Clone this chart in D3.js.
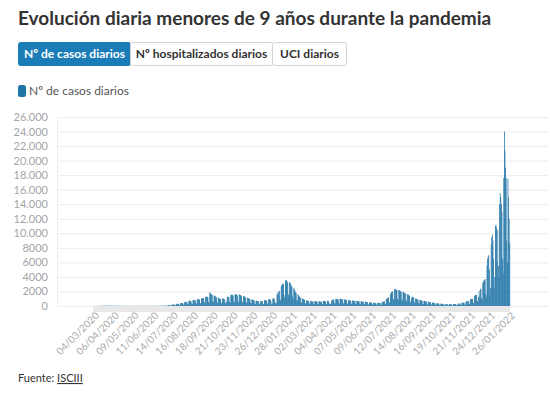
<!DOCTYPE html>
<html>
<head>
<meta charset="utf-8">
<script src="https://cdn.jsdelivr.net/npm/d3@7"></script>
<style>
  body { margin: 0; background: #fff; }
  svg { display: block; font-family: Lato, "Open Sans", sans-serif; }
</style>
</head>
<body>
<div id="chart"></div>
<script>
// Daily cases, age 0-9, from 04/03/2020 (one row per week, Mon..Sun)
const firstDay = "2020-03-04";
const casos = [
  2, 3, 4, 2, 3,
  8, 10, 14, 16, 18, 10, 8,
  25, 30, 32, 35, 30, 18, 14,
  40, 42, 45, 44, 40, 22, 18,
  45, 44, 42, 40, 36, 20, 15,
  38, 36, 34, 30, 22, 16, 12,
  34, 32, 30, 28, 26, 14, 10,
  28, 26, 25, 24, 22, 12, 9,
  24, 22, 21, 20, 15, 10, 8,
  20, 20, 19, 18, 16, 9, 7,
  20, 22, 24, 22, 20, 10, 8,
  24, 26, 25, 24, 22, 12, 9,
  22, 22, 20, 20, 18, 10, 8,
  20, 22, 21, 20, 18, 10, 8,
  22, 24, 25, 24, 20, 12, 9,
  26, 28, 30, 28, 26, 14, 10,
  32, 35, 36, 34, 30, 16, 12,
  45, 50, 52, 55, 50, 25, 20,
  90, 110, 120, 130, 120, 60, 45,
  170, 190, 200, 210, 190, 100, 75,
  260, 290, 300, 310, 280, 150, 110,
  380, 400, 420, 410, 380, 200, 150,
  520, 560, 580, 560, 520, 260, 200,
  680, 720, 730, 700, 560, 300, 240,
  820, 840, 830, 800, 760, 380, 290,
  900, 950, 940, 920, 880, 420, 330,
  1000, 1050, 1080, 1100, 1050, 500, 380,
  1250, 1300, 1280, 1250, 1200, 580, 420,
  1900, 1750, 1650, 1600, 1500, 700, 500,
  1450, 1400, 1350, 1300, 1200, 550, 420,
  1150, 1100, 1050, 1000, 950, 450, 350,
  1050, 1000, 1000, 950, 900, 450, 340,
  600, 1250, 1300, 1250, 1200, 560, 420,
  1500, 1550, 1550, 1500, 1450, 650, 480,
  1600, 1650, 1600, 1550, 1450, 650, 480,
  1600, 1550, 1500, 1450, 1350, 600, 450,
  1400, 1350, 1300, 1250, 1150, 520, 380,
  1150, 1100, 1050, 1000, 950, 420, 320,
  900, 880, 850, 800, 750, 340, 260,
  750, 720, 700, 680, 650, 300, 220,
  680, 400, 700, 680, 640, 300, 230,
  780, 800, 800, 780, 740, 340, 260,
  900, 950, 920, 880, 600, 200, 300,
  1000, 1050, 1100, 850, 300, 500, 400,
  1600, 1800, 1500, 2000, 2100, 1000, 750,
  2700, 2900, 3000, 3100, 3000, 1500, 1100,
  3500, 3600, 3500, 3400, 3200, 1600, 1200,
  3300, 3200, 3000, 2800, 2600, 1300, 950,
  2500, 2300, 2100, 1900, 1800, 850, 650,
  1600, 1500, 1350, 1250, 1150, 550, 420,
  1050, 1000, 950, 900, 850, 400, 300,
  800, 760, 720, 700, 650, 320, 240,
  700, 680, 650, 640, 600, 300, 230,
  680, 660, 640, 630, 600, 290, 220,
  660, 650, 640, 560, 580, 290, 220,
  700, 690, 680, 660, 640, 310, 240,
  720, 700, 680, 400, 300, 300, 250,
  700, 900, 880, 860, 820, 400, 300,
  1000, 980, 960, 940, 900, 430, 320,
  1000, 990, 970, 940, 900, 420, 320,
  920, 900, 870, 850, 820, 380, 290,
  820, 800, 780, 760, 720, 340, 260,
  760, 740, 720, 700, 680, 320, 240,
  720, 700, 680, 660, 640, 300, 220,
  660, 640, 620, 600, 580, 280, 210,
  600, 580, 560, 540, 520, 250, 190,
  520, 500, 480, 460, 440, 210, 160,
  460, 440, 420, 400, 390, 190, 140,
  440, 430, 420, 410, 400, 190, 150,
  520, 560, 600, 620, 640, 310, 240,
  900, 1000, 1100, 1150, 1200, 560, 430,
  1600, 1800, 1900, 2000, 2000, 950, 720,
  2300, 2350, 2300, 2250, 2150, 1000, 760,
  2200, 2150, 2100, 2050, 1950, 900, 700,
  1950, 1900, 1850, 1800, 1700, 800, 600,
  1650, 1600, 1550, 1500, 1400, 650, 400,
  1000, 1300, 1250, 1200, 1150, 540, 400,
  1050, 1000, 950, 920, 880, 420, 310,
  850, 820, 780, 750, 720, 340, 250,
  720, 700, 680, 650, 620, 290, 220,
  600, 580, 560, 540, 510, 240, 180,
  480, 460, 440, 420, 400, 190, 140,
  380, 360, 350, 340, 320, 150, 110,
  320, 310, 300, 290, 270, 130, 95,
  280, 150, 270, 260, 250, 115, 85,
  260, 255, 250, 245, 235, 110, 80,
  270, 275, 280, 275, 265, 125, 90,
  180, 330, 340, 335, 320, 150, 110,
  420, 440, 450, 450, 430, 200, 150,
  600, 640, 660, 670, 650, 300, 220,
  900, 950, 980, 1000, 980, 460, 340,
  1350, 1450, 1500, 1550, 1500, 700, 520,
  1200, 2100, 1400, 2300, 2400, 1100, 820,
  3200, 3400, 3500, 3600, 3700, 1700, 1300,
  5500, 6500, 6800, 7000, 5000, 1500, 2500,
  8500, 9500, 9800, 9000, 6500, 2500, 4000,
  11000, 11200, 10800, 6000, 10500, 5500, 4000,
  14000, 15500, 15000, 14000, 13000, 6500, 4500,
  17600, 24000, 21400, 19000, 17600, 9000, 6000,
  17500, 15000, 12000, 8700
];

const yTicks = [0, 2000, 4000, 6000, 8000, 10000, 12000, 14000, 16000, 18000, 20000, 22000, 24000, 26000];
const xTickLabels = [
  "04/03/2020", "06/04/2020", "09/05/2020", "11/06/2020", "14/07/2020", "16/08/2020",
  "18/09/2020", "21/10/2020", "23/11/2020", "26/12/2020", "28/01/2021", "02/03/2021",
  "04/04/2021", "07/05/2021", "09/06/2021", "12/07/2021", "14/08/2021", "16/09/2021",
  "19/10/2021", "21/11/2021", "24/12/2021", "26/01/2022"
];
const buttons = ["Nº de casos diarios", "Nº hospitalizados diarios", "UCI diarios"];
const serieName = "Nº de casos diarios";

const width = 550, height = 396;
const blue = "#1f74a6";
const btnBlue = "#1b7db7";

const fmtDay = d3.timeFormat("%d/%m/%Y");
const start = d3.timeParse("%Y-%m-%d")(firstDay);
const days = casos.map((v, i) => fmtDay(d3.timeDay.offset(start, i)));

const svg = d3.select("#chart").append("svg")
  .attr("width", width)
  .attr("height", height);

// Title
svg.append("text")
  .attr("x", 18).attr("y", 25)
  .attr("font-size", 19).attr("font-weight", 700)
  .attr("fill", "#333")
  .text("Evolución diaria menores de 9 años durante la pandemia");

// Tab buttons
const btnX = [18, 130, 272, 346];
const btn = svg.append("g").selectAll("g")
  .data(buttons)
  .join("g");
btn.append("rect")
  .attr("x", (d, i) => btnX[i] + 0.5).attr("y", 42.5)
  .attr("width", (d, i) => btnX[i + 1] - btnX[i]).attr("height", 23)
  .attr("rx", 2)
  .attr("fill", (d, i) => i === 0 ? btnBlue : "#fff")
  .attr("stroke", (d, i) => i === 0 ? btnBlue : "#d4d4d4");
btn.append("text")
  .attr("x", (d, i) => (btnX[i] + btnX[i + 1]) / 2 + 0.5)
  .attr("y", 58)
  .attr("text-anchor", "middle")
  .attr("font-size", 12).attr("font-weight", 700)
  .attr("fill", (d, i) => i === 0 ? "#fff" : "#333")
  .text(d => d);

// Legend
svg.append("rect")
  .attr("x", 18).attr("y", 85).attr("width", 8).attr("height", 12)
  .attr("rx", 2.5).attr("fill", blue);
svg.append("text")
  .attr("x", 29).attr("y", 95)
  .attr("font-size", 12).attr("fill", "#555")
  .text(serieName);

// Scales
const x = d3.scaleBand()
  .domain(days)
  .range([93, 510])
  .padding(0);
const y = d3.scaleLinear()
  .domain([0, 26000])
  .range([306, 117]);

const fmtY = d => d >= 10000 ? d3.format(",")(d).replace(/,/g, ".") : String(d);

// Grid + y axis
const yAxis = svg.append("g")
  .attr("transform", "translate(57,0)")
  .call(d3.axisLeft(y).tickValues(yTicks).tickSize(-491).tickFormat(fmtY));
yAxis.select(".domain").attr("stroke", "#ececec");
yAxis.selectAll(".tick line").attr("stroke", "#ececec");
yAxis.selectAll(".tick text")
  .attr("x", -9)
  .attr("font-size", 11)
  .attr("font-family", "Lato, sans-serif")
  .attr("fill", "#a5a5a5");

// Light band under the date range
svg.append("rect")
  .attr("x", x(days[0])).attr("y", 306)
  .attr("width", x(days[days.length - 1]) + x.bandwidth() - x(days[0]))
  .attr("height", 6)
  .attr("fill", "#e8e8e8");

// Bars
svg.append("g")
  .selectAll("rect")
  .data(casos)
  .join("rect")
  .attr("x", (d, i) => x(days[i]))
  .attr("y", d => y(d))
  .attr("width", x.bandwidth() + 0.15)
  .attr("height", d => y(0) - y(d))
  .attr("fill", blue);

// X axis labels
const xAxis = svg.append("g")
  .attr("transform", "translate(0,310)")
  .call(d3.axisBottom(x).tickValues(xTickLabels).tickSize(0));
xAxis.select(".domain").remove();
xAxis.selectAll(".tick text")
  .attr("font-size", 10)
  .attr("font-family", "Lato, sans-serif")
  .attr("fill", "#aaa")
  .attr("text-anchor", "end")
  .attr("dy", "0.3em")
  .attr("transform", "translate(2,2) rotate(-45)");

// Source
const src = svg.append("text")
  .attr("x", 18).attr("y", 382)
  .attr("font-size", 11).attr("fill", "#333");
src.append("tspan").text("Fuente: ");
src.append("tspan").attr("text-decoration", "underline").text("ISCIII");
</script>
</body>
</html>
